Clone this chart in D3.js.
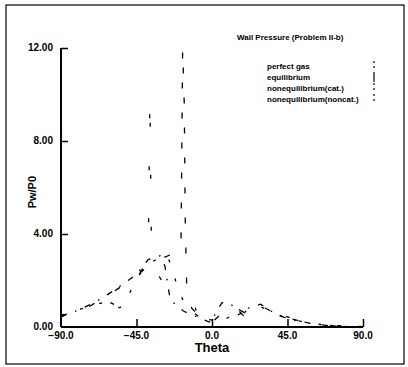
<!DOCTYPE html>
<html>
<head>
<meta charset="utf-8">
<script src="https://cdn.jsdelivr.net/npm/d3@7"></script>
<style>
  body { margin: 0; background: #fff; }
  svg { display: block; font-family: "Liberation Sans", Arial, sans-serif; }
</style>
</head>
<body>
<div id="chart"></div>
<script>
// data
const seriesNames = ["perfect gas", "equilibrium", "nonequilibrium(cat.)", "nonequilibrium(noncat.)"];

const perfectTheta = [-90, -80, -70, -60, -50, -45, -38, -31, -28, -25, -21, -17, -12, -7, -3, 0, 2, 6, 10, 17, 19, 22, 29, 38, 46, 60, 74, 90];
const perfectPw = [0.45, 0.72, 1.05, 1.5, 2.0, 2.27, 2.9, 3.06, 2.6, 1.2, 0.9, 0.69, 0.5, 0.4, 0.25, 0.19, 0.6, 1.05, 1.05, 0.62, 0.47, 0.83, 0.98, 0.55, 0.33, 0.14, 0.04, 0.0];

const equilTheta = [-90, -75, -65, -60, -55, -52, -45, -38, -31, -27, -24, -21, -17, -11, -9, -5, 0, 4, 8, 13, 18, 22, 28, 40, 55, 70, 90];
const equilPw = [0.5, 0.85, 1.05, 0.95, 0.83, 1.0, 2.1, 2.7, 3.0, 3.1, 2.6, 1.8, 1.1, 1.05, 0.6, 0.35, 0.3, 0.5, 0.34, 0.55, 0.5, 0.83, 0.9, 0.5, 0.2, 0.06, 0.02];

const catTheta = [-90, -75, -60, -45, -35, -25, -21, -18.5, -17.5, -16.5, -16, -15, -12, -8, -4, 0, 6, 12, 20, 28, 40, 55, 70, 90];
const catPw = [0.48, 0.8, 1.45, 2.2, 2.8, 3.1, 3.2, 3.3, 12.0, 9.5, 4.8, 1.5, 0.8, 0.5, 0.3, 0.2, 0.6, 0.9, 0.6, 0.95, 0.5, 0.2, 0.05, 0.0];

const noncatTheta = [-90, -75, -62, -55, -48, -40, -38, -37, -36, -30, -22, -14, -8, -2, 3, 9, 15, 25, 35, 50, 65, 80, 90];
const noncatPw = [0.45, 0.8, 1.1, 0.85, 2.0, 2.6, 2.9, 10.0, 2.7, 2.0, 1.3, 0.8, 0.45, 0.22, 0.4, 0.8, 0.5, 0.9, 0.7, 0.3, 0.1, 0.03, 0.0];

const xTicks = [-90, -45, 0, 45, 90];
const yTicks = [0, 4, 8, 12];

const W = 408, H = 367;
const margin = { top: 48, right: 45, bottom: 40, left: 61 };

const svg = d3.select("#chart").append("svg")
  .attr("width", W).attr("height", H);

// outer frame
svg.append("rect")
  .attr("x", 6).attr("y", 5).attr("width", 398).attr("height", 359)
  .attr("fill", "none").attr("stroke", "#000").attr("stroke-width", 1.2);

var x = d3.scaleLinear().domain([-90, 90]).range([margin.left, 363]);
var y = d3.scaleLinear().domain([0, 12]).range([327, margin.top]);

// axes
const xAxis = svg.append("g")
  .attr("transform", "translate(0," + y(0) + ")")
  .call(d3.axisTop(x).tickValues(xTicks).tickSize(8).tickFormat(""));
xAxis.select(".domain").attr("stroke-width", 2).attr("d", "M" + x(-90) + ",0H" + x(90));
xAxis.selectAll(".tick line").attr("stroke-width", 1.5);
xAxis.selectAll(".tick").filter(d => d === -90).select("line").remove();

svg.append("g").selectAll("text")
  .data(xTicks).enter().append("text")
  .attr("x", d => x(d)).attr("y", y(0) + 12)
  .attr("text-anchor", "middle")
  .attr("font-size", 10).attr("font-weight", "bold")
  .text(d => d3.format(".1f")(d));

const yAxis = svg.append("g")
  .attr("transform", "translate(" + x(-90) + ",0)")
  .call(d3.axisRight(y).tickValues(yTicks).tickSize(7).tickFormat(""));
yAxis.select(".domain").attr("stroke-width", 2).attr("d", "M0," + y(0) + "V" + y(12));
yAxis.selectAll(".tick line").attr("stroke-width", 1.5);
yAxis.selectAll(".tick").filter(d => d === 0).select("line").remove();

svg.append("g").selectAll("text")
  .data(yTicks).enter().append("text")
  .attr("x", x(-90) - 8).attr("y", d => y(d) + 3)
  .attr("text-anchor", "end")
  .attr("font-size", 10).attr("font-weight", "bold")
  .text(d => d3.format(".2f")(d));

// axis titles
svg.append("text")
  .attr("x", x(0)).attr("y", 352)
  .attr("text-anchor", "middle")
  .attr("font-size", 13).attr("font-weight", "bold")
  .text("Theta");

svg.append("text")
  .attr("transform", "translate(36," + y(5.8) + ") rotate(-90)")
  .attr("text-anchor", "middle")
  .attr("font-size", 11).attr("font-weight", "bold")
  .text("Pw/P0");

// title
svg.append("text")
  .attr("x", 237).attr("y", 40)
  .attr("font-size", 8).attr("font-weight", "bold")
  .text("Wall Pressure (Problem II-b)");

// curves: the scan lost most of the ink, so the dashes are sparse
const series = [
  { name: seriesNames[0], theta: perfectTheta, pw: perfectPw, dash: "6,9,1.5,9" },
  { name: seriesNames[1], theta: equilTheta, pw: equilPw, dash: "3,17" },
  { name: seriesNames[2], theta: catTheta, pw: catPw, dash: "6,24" },
  { name: seriesNames[3], theta: noncatTheta, pw: noncatPw, dash: "4,48" }
];

var line = d3.line()
  .x(d => x(d[0]))
  .y(d => y(d[1]));

svg.append("g").selectAll("path")
  .data(series).enter().append("path")
  .attr("d", s => line(d3.zip(s.theta, s.pw)))
  .attr("fill", "none")
  .attr("stroke", "#000")
  .attr("stroke-width", 1.3)
  .attr("stroke-dasharray", s => s.dash);

// legend
const legend = svg.append("g").selectAll("g")
  .data(series).enter().append("g")
  .attr("transform", (d, i) => "translate(267," + (69 + i * 11) + ")");

legend.append("text")
  .attr("font-size", 8).attr("font-weight", "bold")
  .text(d => d.name);

legend.append("line")
  .attr("x1", 107).attr("x2", 107)
  .attr("y1", -8).attr("y2", 2)
  .attr("stroke", "#000").attr("stroke-width", 1.2)
  .attr("stroke-dasharray", (d, i) => i === 1 ? null : "2,3");
</script>
</body>
</html>
